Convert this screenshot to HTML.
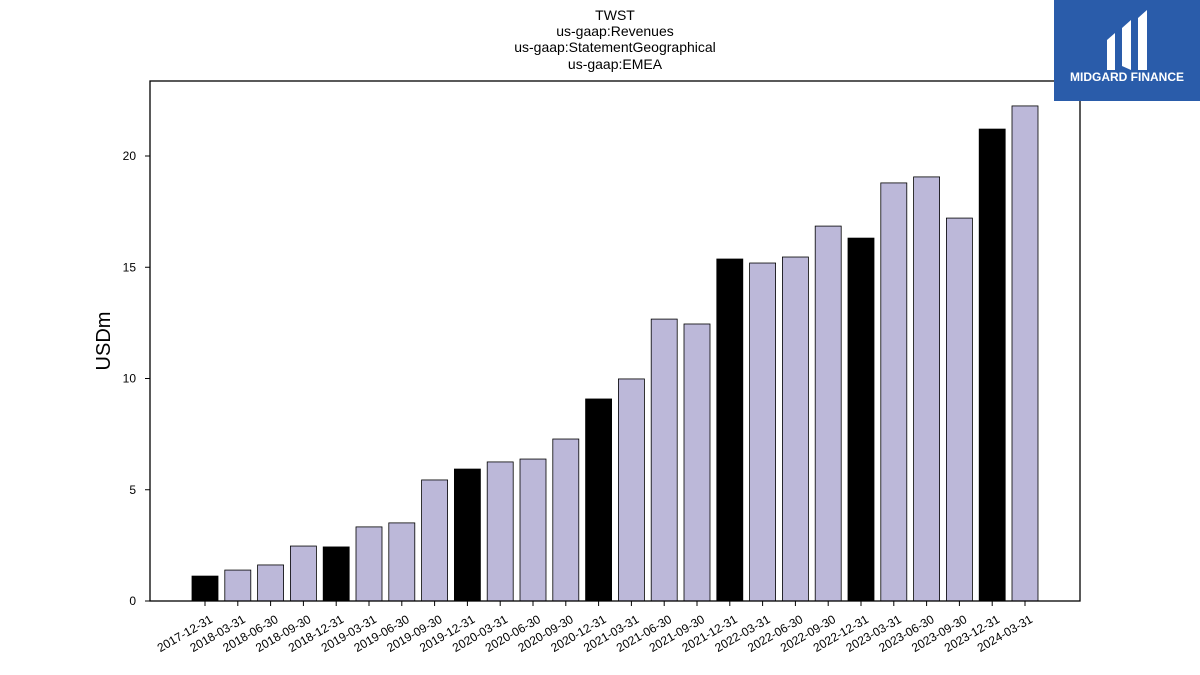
<!DOCTYPE html>
<html><head><meta charset="utf-8">
<style>
html,body{margin:0;padding:0;background:#fff;width:1200px;height:675px;overflow:hidden;font-family:"Liberation Sans","DejaVu Sans",sans-serif;}
</style></head>
<body>
<svg id="chart" width="1200" height="675" xmlns="http://www.w3.org/2000/svg">
  <g font-size="14" text-anchor="middle" fill="#000">
    <text x="615" y="20">TWST</text>
    <text x="615" y="36">us-gaap:Revenues</text>
    <text x="615" y="52">us-gaap:StatementGeographical</text>
    <text x="615" y="69">us-gaap:EMEA</text>
  </g>
  <g id="bars"></g>
  <g id="yaxis"></g>
  <g id="xaxis"></g>
  <rect x="150" y="81" width="930" height="520" fill="none" stroke="#000" stroke-width="1.3"/>
  <text x="110" y="341" font-size="20" text-anchor="middle" transform="rotate(-90 110 341)">USDm</text>
  <g>
    <rect x="1054" y="0" width="146" height="101" fill="#2a5caa"/>
    <path d="M1107 40 L1115 33 L1115 70 L1107 70 Z M1122 28 L1131 20 L1131 70 L1122 66 Z M1138 18 L1147 10 L1147 70 L1138 70 Z" fill="#fff"/>
    <text x="1127" y="81" font-size="12" font-weight="bold" fill="#fff" text-anchor="middle">MIDGARD FINANCE</text>
  </g>
</svg>
<script>
const categories=["2017-12-31","2018-03-31","2018-06-30","2018-09-30","2018-12-31","2019-03-31","2019-06-30","2019-09-30","2019-12-31","2020-03-31","2020-06-30","2020-09-30","2020-12-31","2021-03-31","2021-06-30","2021-09-30","2021-12-31","2022-03-31","2022-06-30","2022-09-30","2022-12-31","2023-03-31","2023-06-30","2023-09-30","2023-12-31","2024-03-31"];
const values=[1.12,1.39,1.62,2.47,2.43,3.33,3.51,5.44,5.93,6.25,6.38,7.28,9.08,9.98,12.67,12.45,15.37,15.19,15.46,16.85,16.31,18.79,19.06,17.21,21.21,22.25];
const yTicks=[0,5,10,15,20];
const NS="http://www.w3.org/2000/svg";
function yScale(v){return 601-v*22.25;}
function xScale(i){return 205+i*32.8;}
const bw=26;
const bars=document.getElementById('bars');
const xa=document.getElementById('xaxis');
const ya=document.getElementById('yaxis');
categories.forEach((c,i)=>{
  const r=document.createElementNS(NS,'rect');
  
  
  const y=yScale(values[i]);
  r.setAttribute('x',xScale(i)-bw/2);r.setAttribute('y',y);
  r.setAttribute('width',bw);r.setAttribute('height',601-y);
  r.setAttribute('fill',c.endsWith('12-31')?'#000':'#bcb8d9');
  r.setAttribute('stroke','#000');r.setAttribute('stroke-width','0.8');
  bars.appendChild(r);
  const t=document.createElementNS(NS,'line');
  
  
  t.setAttribute('x1',xScale(i));t.setAttribute('x2',xScale(i));t.setAttribute('y1',601);t.setAttribute('y2',606);t.setAttribute('stroke','#000');
  xa.appendChild(t);
  const l=document.createElementNS(NS,'text');
  
  
  const lx=xScale(i)+4,ly=614;
  l.setAttribute('x',lx);l.setAttribute('y',ly);l.setAttribute('font-size','12');l.setAttribute('text-anchor','end');
  l.setAttribute('dominant-baseline','hanging');
  l.setAttribute('transform','rotate(-30 '+lx+' '+ly+')');
  l.textContent=c;xa.appendChild(l);
});
yTicks.forEach(v=>{
  const t=document.createElementNS(NS,'line');
  
  
  t.setAttribute('x1',145);t.setAttribute('x2',150);t.setAttribute('y1',yScale(v));t.setAttribute('y2',yScale(v));t.setAttribute('stroke','#000');
  ya.appendChild(t);
  const l=document.createElementNS(NS,'text');
  
  
  l.setAttribute('x',136);l.setAttribute('y',yScale(v)+4);l.setAttribute('font-size','12');l.setAttribute('text-anchor','end');
  l.textContent=v;ya.appendChild(l);
});
</script>
</body></html>
